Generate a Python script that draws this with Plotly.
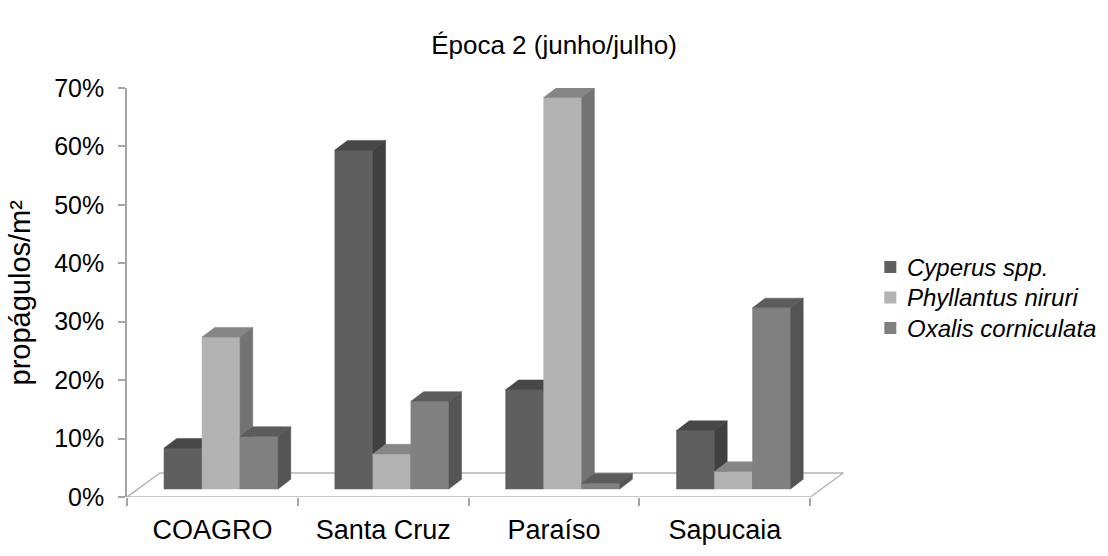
import plotly.graph_objects as go

# ---- data ----
sites = ["COAGRO", "Santa Cruz", "Paraíso", "Sapucaia"]
species = ["Cyperus spp.", "Phyllantus niruri", "Oxalis corniculata"]
cyperus = [7, 58, 17, 10]
phyllantus = [26, 6, 67, 3]
oxalis = [9, 15, 1, 31]
y_ticks = [0, 10, 20, 30, 40, 50, 60, 70]
y_tick_text = ["0%", "10%", "20%", "30%", "40%", "50%", "60%", "70%"]

series = [cyperus, phyllantus, oxalis]
# front / top / side shading per series
face_colors = [
    ("#5f5f5f", "#474747", "#404040"),
    ("#b3b3b3", "#868686", "#737373"),
    ("#808080", "#5c5c5c", "#545454"),
]

# ---- page geometry ----
W, H = 1108, 556
L, T, B = 127, 88, 59
X_MAX = 4.25
PX_X = 170.75                      # pixels per category
PLOT_W = X_MAX * PX_X
R = W - L - PLOT_W
Y_MAX = 70
PLOT_H = H - T - B
PX_Y = PLOT_H / Y_MAX               # pixels per percent

def ux(px):
    return px / PX_X

def uy(px):
    return px / PX_Y

def paper_x(px):
    return (px - L) / PLOT_W

def paper_y(py):
    return (H - B - py) / PLOT_H

# oblique depth of the floor and of the boxes
FLOOR_DX, FLOOR_DY = ux(33), uy(24)
OFF_DX, OFF_DY = ux(11), uy(8)      # front plane of the boxes
BOX_DX, BOX_DY = ux(12.7), uy(9.7)  # box depth
BAR_W = ux(38)
GROUP_LEFT = ux(37) - OFF_DX

fig = go.Figure()

axis_grey = "#a6a6a6"

# floor
fig.add_trace(go.Scatter(
    x=[0, len(sites), len(sites) + FLOOR_DX, FLOOR_DX, 0],
    y=[0, 0, FLOOR_DY, FLOOR_DY, 0],
    mode="lines", fill="toself", fillcolor="white",
    line=dict(color="#b5b5b5", width=1.5),
    hoverinfo="skip", showlegend=False,
))

def poly(xs, ys, color, name):
    fig.add_trace(go.Scatter(
        x=xs + [xs[0]], y=ys + [ys[0]], mode="lines", fill="toself",
        fillcolor=color, line=dict(color=color, width=0.5),
        hoverinfo="skip", showlegend=False, name=name,
    ))

for i, site in enumerate(sites):
    for j, vals in enumerate(series):
        v = vals[i]
        front, top, side = face_colors[j]
        x0 = i + GROUP_LEFT + j * BAR_W + OFF_DX
        x1 = x0 + BAR_W
        y0 = OFF_DY
        y1 = OFF_DY + v
        # front face
        poly([x0, x1, x1, x0], [y0, y0, y1, y1], front, species[j])
        # top face
        poly([x0, x1, x1 + BOX_DX, x0 + BOX_DX], [y1, y1, y1 + BOX_DY, y1 + BOX_DY], top, species[j])
        # right side face
        poly([x1, x1 + BOX_DX, x1 + BOX_DX, x1], [y0, y0 + BOX_DY, y1 + BOX_DY, y1], side, species[j])

# legend: swatches and italic labels
legend_rows = [267, 297.5, 328]
shapes = []
annotations = []
for j, name in enumerate(species):
    cy = legend_rows[j]
    shapes.append(dict(
        type="rect", xref="paper", yref="paper",
        x0=paper_x(884), x1=paper_x(896),
        y0=paper_y(cy + 6), y1=paper_y(cy - 6),
        fillcolor=face_colors[j][0], line=dict(width=0),
    ))
    annotations.append(dict(
        text=name, xref="paper", yref="paper",
        x=paper_x(905), y=paper_y(cy), xanchor="left", yanchor="middle",
        showarrow=False, font=dict(size=24, style="italic"),
    ))

annotations.append(dict(
    text="propágulos/m²", textangle=-90, xref="paper", yref="paper",
    x=paper_x(20), y=0.5, xanchor="center", yanchor="middle",
    showarrow=False, font=dict(size=29),
))

fig.update_layout(
    width=W, height=H,
    margin=dict(l=L, r=R, t=T, b=B, pad=0, autoexpand=False),
    plot_bgcolor="white", paper_bgcolor="white",
    font=dict(family="Liberation Sans, Arial, sans-serif", color="#000000"),
    showlegend=False,
    title=dict(
        text="Época 2 (junho/julho)", x=0.5, xref="container",
        y=1 - 45 / H, yref="container", xanchor="center", yanchor="middle",
        font=dict(size=26),
    ),
    xaxis=dict(
        range=[0, X_MAX], showgrid=False, zeroline=False, showline=False,
        tickmode="array", tickvals=list(range(len(sites) + 1)),
        ticktext=[""] * (len(sites) + 1),
        ticks="outside", ticklen=8, tickcolor=axis_grey, tickwidth=1.5,
        fixedrange=True,
    ),
    xaxis2=dict(
        overlaying="x", side="bottom", range=[0, X_MAX], showgrid=False,
        zeroline=False, showline=False,
        tickmode="array", tickvals=[i + 0.5 for i in range(len(sites))],
        ticktext=sites, ticks="", ticklabelstandoff=14,
        tickfont=dict(size=27),
    ),
    yaxis=dict(
        range=[0, Y_MAX], showgrid=False, zeroline=False,
        showline=True, linecolor=axis_grey, linewidth=1.5,
        tickmode="array", tickvals=y_ticks, ticktext=y_tick_text,
        ticks="outside", ticklen=7, tickcolor=axis_grey, tickwidth=1.5,
        ticklabelstandoff=9, tickfont=dict(size=25),
    ),
    shapes=shapes,
    annotations=annotations,
)

# dummy trace to activate the label axis
fig.add_trace(go.Scatter(x=[None], y=[None], xaxis="x2", showlegend=False, hoverinfo="skip"))

fig.write_html("out.html")
